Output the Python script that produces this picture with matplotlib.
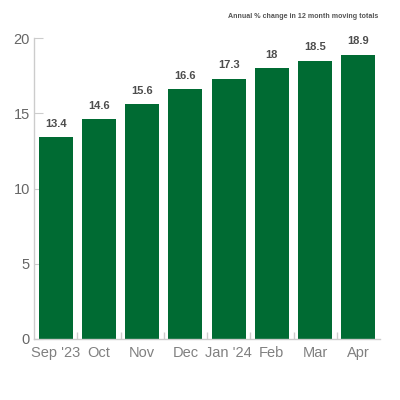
import numpy as np
import matplotlib
matplotlib.use("Agg")
import matplotlib.pyplot as plt

months = ["Sep '23", "Oct", "Nov", "Dec", "Jan '24", "Feb", "Mar", "Apr"]
values = [13.4, 14.6, 15.6, 16.6, 17.3, 18, 18.5, 18.9]
value_labels = ["13.4", "14.6", "15.6", "16.6", "17.3", "18", "18.5", "18.9"]
y_ticks = [0, 5, 10, 15, 20]

plt.rcParams["font.family"] = ["Liberation Sans", "DejaVu Sans"]

fig = plt.figure(figsize=(4, 4), dpi=100)
ax = fig.add_axes([0.085, 0.1525, 0.865, 0.7525])

x = np.arange(len(months))
ax.bar(x, values, width=0.79, color="#006b33", zorder=2)
for xi, v, lab in zip(x, values, value_labels):
    ax.text(xi, v + 0.55, lab, ha="center", va="bottom", fontsize=8,
            fontweight="bold", color="#4d4d4d")

ax.set_xlim(-0.5, len(months) - 0.5)
ax.set_ylim(0, 20)
ax.set_axisbelow(True)

ax.set_xticks(x)
ax.set_xticklabels(months)
ax.set_xticks(np.arange(0.5, len(months) - 0.5, 1), minor=True)
ax.tick_params(axis="x", which="major", length=0, labelsize=10.5,
               labelcolor="#808080", pad=5)
ax.tick_params(axis="x", which="minor", direction="in", length=5,
               color="#cccccc", width=1)

ax.set_yticks(y_ticks)
ax.tick_params(axis="y", direction="in", length=6.5, color="#cccccc",
               labelsize=10.5, labelcolor="#666666", pad=3)

for s in ["top", "right"]:
    ax.spines[s].set_visible(False)
for s in ["left", "bottom"]:
    ax.spines[s].set_color("#cccccc")
    ax.spines[s].set_linewidth(1)

fig.text(0.945, 0.958, "Annual % change in 12 month moving totals",
         ha="right", va="center", fontsize=5.1, fontweight="bold",
         color="#555555")

fig.savefig("out.png", dpi=100)
